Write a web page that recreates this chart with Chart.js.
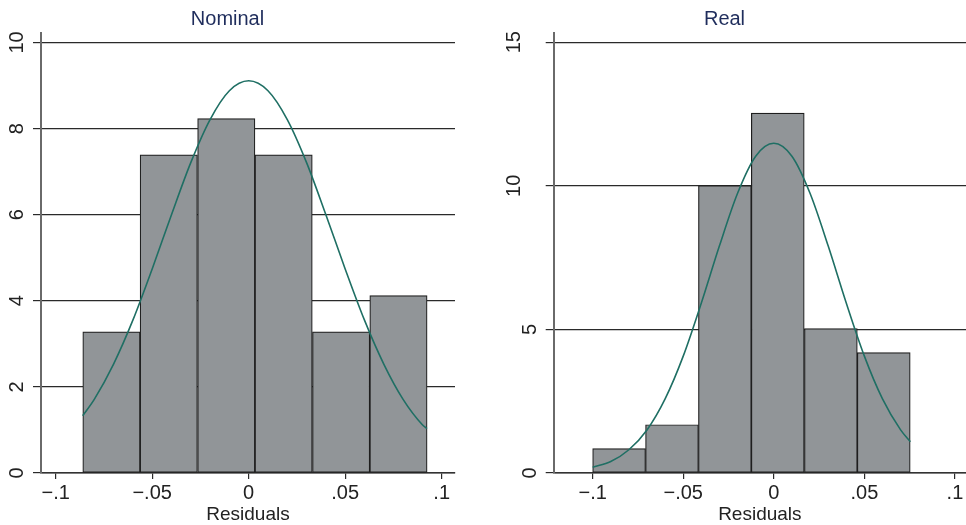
<!DOCTYPE html>
<html>
<head>
<meta charset="utf-8">
<style>
  html, body { margin: 0; padding: 0; background: #fff; }
  body { width: 966px; height: 525px; position: relative; overflow: hidden; }
  canvas { position: absolute; top: 0; }
  #cNominal { left: 0; }
  #cReal { left: 483px; }
</style>
<script src="https://cdn.jsdelivr.net/npm/chart.js@4"></script>
</head>
<body>
<canvas id="cNominal" width="499" height="525"></canvas>
<canvas id="cReal" width="578" height="525"></canvas>
<script>
// ---------------- data ----------------
const xTicks = [-0.1, -0.05, 0, 0.05, 0.1];
const xTickLabels = ['\u2212.1', '\u2212.05', '0', '.05', '.1'];

const nominalYTicks = [0, 2, 4, 6, 8, 10];
const nominalBinCenters = [-0.0711, -0.0414, -0.0116, 0.0181, 0.0479, 0.0776];
const nominalDensity = [3.28, 7.39, 8.23, 7.39, 3.28, 4.12];
const nominalCurveX = [-0.086, -0.08, -0.07, -0.06, -0.05, -0.04, -0.03, -0.02, -0.01, 0,
                       0.01, 0.02, 0.03, 0.04, 0.05, 0.06, 0.07, 0.08, 0.09, 0.0924];
const nominalCurveY = [1.33, 1.71, 2.53, 3.55, 4.74, 6.00, 7.21, 8.21, 8.88, 9.11,
                       8.88, 8.21, 7.21, 6.00, 4.74, 3.55, 2.53, 1.71, 1.12, 1.03];

const realYTicks = [0, 5, 10, 15];
const realBinCenters = [-0.0854, -0.0562, -0.0270, 0.0022, 0.0315, 0.0607];
const realDensity = [0.85, 1.68, 10.01, 12.53, 5.03, 4.19];
const realCurveX = [-0.1, -0.09, -0.08, -0.07, -0.06, -0.05, -0.04, -0.03, -0.02, -0.01, 0,
                    0.01, 0.02, 0.03, 0.04, 0.05, 0.06, 0.07, 0.0754];
const realCurveY = [0.20, 0.40, 0.81, 1.50, 2.58, 4.07, 5.92, 7.91, 9.74, 11.03, 11.48,
                    11.03, 9.74, 7.91, 5.92, 4.07, 2.58, 1.50, 1.09];

// ---------------- styling ----------------
const FONT = "'Liberation Sans', Arial, Helvetica, sans-serif";
Chart.defaults.font.family = FONT;
Chart.defaults.color = '#222';

const BAR_FILL = '#919598';
const BAR_EDGE = '#1e1e1e';
const CURVE = '#1f6f64';
const GRID = '#2a2a2a';
const YAXIS = '#6a6a6a';
const TITLE = '#1f2d5c';

function xScale(min, max) {
  return {
    type: 'linear', min: min, max: max, offset: false,
    afterBuildTicks: s => { s.ticks = xTicks.map(v => ({ value: v })); },
    afterFit: s => { s.height = 52; },
    ticks: {
      autoSkip: false, minRotation: 0, maxRotation: 0, padding: 2,
      font: { size: 20 }, color: '#222',
      callback: (v, i) => xTickLabels[i]
    },
    grid: { display: true, drawOnChartArea: false, drawTicks: true, tickLength: 6,
            color: GRID, lineWidth: 1.2, offset: false },
    border: { display: true, color: '#333', width: 1.5 },
    title: { display: true, text: 'Residuals', color: '#222',
             font: { size: 19, lineHeight: 1.1 }, padding: { top: 0, bottom: 0 } }
  };
}

function makeChart(id, title, centers, dens, cx, cy, yTicks, yMax, xMin, xMax, extra) {
  const scales = {
    x: xScale(xMin, xMax),
    y: {
      type: 'linear', position: 'left', min: 0, max: yMax,
      afterBuildTicks: s => { s.ticks = yTicks.map(v => ({ value: v })); },
      afterFit: s => { s.width = extra.yWidth; s.paddingTop = 0; s.paddingBottom = 0; },
      ticks: {
        minRotation: 90, maxRotation: 90, crossAlign: 'center', padding: extra.yPad,
        font: { size: 20 }, color: '#222',
        callback: extra.yLabel
      },
      grid: { color: GRID, lineWidth: 1.2, tickLength: 8, drawTicks: true },
      border: { display: true, color: YAXIS, width: 2 }
    }
  };
  if (extra.y2) {
    // second label-only axis (one-digit labels sit further right in the original)
    scales.y2 = {
      type: 'linear', position: 'left', weight: 10, min: 0, max: yMax,
      afterBuildTicks: s => { s.ticks = yTicks.map(v => ({ value: v })); },
      afterFit: s => { s.width = 0; s.paddingTop = 0; s.paddingBottom = 0; },
      ticks: {
        mirror: true,
        minRotation: 90, maxRotation: 90, crossAlign: 'center', padding: extra.y2Pad,
        font: { size: 20 }, color: '#222',
        callback: extra.y2Label
      },
      grid: { display: false, drawTicks: false },
      border: { display: false }
    };
  }
  return new Chart(document.getElementById(id), {
    type: 'bar',
    data: {
      datasets: [
        {
          type: 'line', order: 0, yAxisID: 'y', xAxisID: 'x',
          data: cx.map((x, i) => ({ x: x, y: cy[i] })),
          borderColor: CURVE, borderWidth: 1.6, pointRadius: 0,
          cubicInterpolationMode: 'monotone', fill: false
        },
        {
          type: 'bar', order: 1, yAxisID: 'y', xAxisID: 'x',
          data: centers.map((x, i) => ({ x: x, y: dens[i] })),
          backgroundColor: BAR_FILL, borderColor: BAR_EDGE, borderWidth: 1.2,
          borderSkipped: false, barPercentage: 1, categoryPercentage: 1
        }
      ]
    },
    options: {
      responsive: false, animation: false, devicePixelRatio: 1,
      layout: { padding: { left: 0, right: extra.padRight, top: 0, bottom: 0 } },
      plugins: {
        legend: { display: false },
        tooltip: { enabled: false },
        title: { display: true, text: title, color: TITLE, fullSize: true,
                 font: { size: 20, weight: 'normal' }, padding: { top: 7.5, bottom: 1.5 } }
      },
      scales: scales
    }
  });
}

makeChart('cNominal', 'Nominal', nominalBinCenters, nominalDensity, nominalCurveX, nominalCurveY,
  nominalYTicks, 10.22, -0.1076, 0.1069,
  { yWidth: 41, yPad: 4.4, yLabel: v => String(v), padRight: 44 });

makeChart('cReal', 'Real', realBinCenters, realDensity, realCurveX, realCurveY,
  realYTicks, 15.32, -0.1215, 0.1061,
  { yWidth: 70.7, yPad: 20.1, yLabel: v => (String(v).length > 1 ? String(v) : ''),
    y2: true, y2Pad: 41.44, y2Label: v => (String(v).length === 1 ? String(v) : ''),
    padRight: 95 });
</script>
</body>
</html>
